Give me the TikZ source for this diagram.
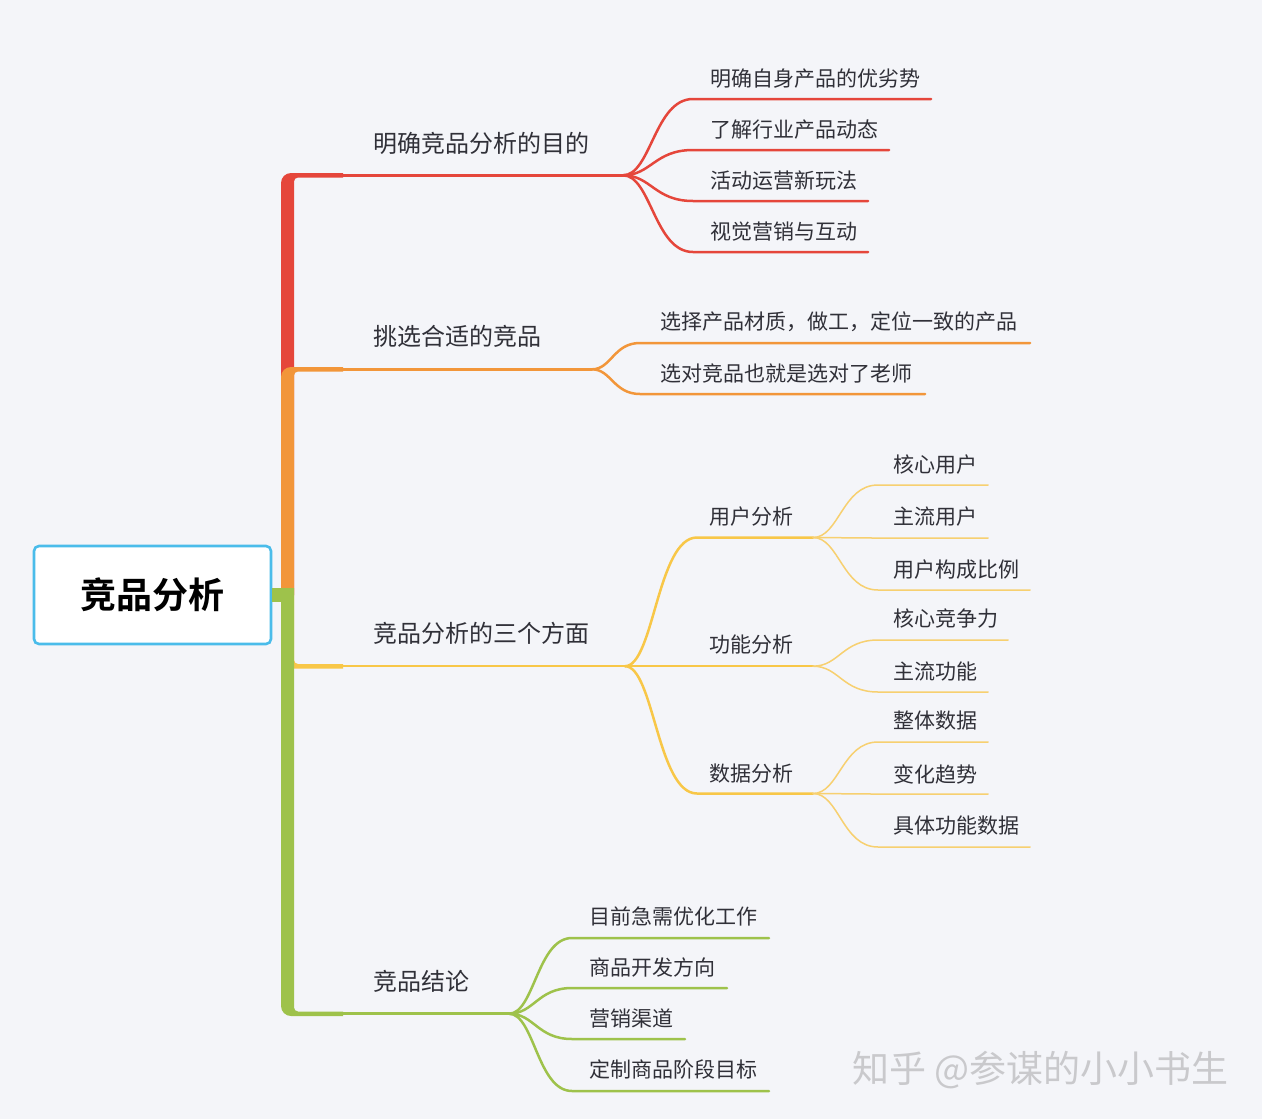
\documentclass[tikz,border=0pt]{standalone}
\usepackage{fontspec}
\setmainfont{Noto Sans CJK SC}[BoldFont={Noto Sans CJK SC Bold}]
\usetikzlibrary{calc}
\definecolor{bg}{HTML}{F4F5F9}
\definecolor{cred}{HTML}{E5463B}
\definecolor{corange}{HTML}{F2963A}
\definecolor{cyellow}{HTML}{F8C748}
\definecolor{cyellowl}{HTML}{F7D070}
\definecolor{cgreen}{HTML}{9EC24B}
\definecolor{cblue}{HTML}{4ABCEA}
\definecolor{ctext}{HTML}{303038}
\definecolor{cmark}{HTML}{C9C9CC}
\tikzset{
  maintext/.style={anchor=west, inner sep=0pt, text=ctext, font=\fontsize{24}{28}\selectfont},
  subtext/.style={anchor=west, inner sep=0pt, text=ctext, font=\fontsize{21}{25}\selectfont},
  rootbox/.style={draw=cblue, line width=2.6pt, fill=white, rounded corners=5pt,
    minimum width=237pt, minimum height=98pt, inner sep=0pt,
    font=\bfseries\fontsize{36}{40}\selectfont, text=black},
  wire/.style={line width=2.5pt, line cap=round},
  thinwire/.style={line width=1.5pt, line cap=round},
}
\newcommand\mmlink[4]{%
  \draw[#1] let \p1=(#2), \p2=(#3) in (\p1)
    .. controls ({\x1+0.4*(\x2-\x1)},\y1) and ({\x1+0.45*(\x2-\x1)},\y2) .. (\p2) -- (#4);}
\begin{document}
\begin{tikzpicture}[x=1pt,y=-1pt]
\fill[bg] (0,0) rectangle (1262,1119);
\useasboundingbox (0,0) rectangle (1262,1119);

% root
\node[rootbox] (root) at (152.5,595) {竞品分析};

% trunk pieces
\fill[cred] (281,595) -- (281,183) arc[start angle=180, end angle=270, radius=10]
  -- (343,173) -- (343,177.5) -- (298,177.5) arc[start angle=270, end angle=180, radius=4] -- (294,595) -- cycle;
\fill[corange] (281,595) -- (281,377) arc[start angle=180, end angle=270, radius=10]
  -- (343,367) -- (343,371.5) -- (298,371.5) arc[start angle=270, end angle=180, radius=4] -- (294,595) -- cycle;
\fill[cyellow] (281,595) -- (281,658.5) arc[start angle=180, end angle=90, radius=10]
  -- (343,668.5) -- (343,664) -- (298,664) arc[start angle=90, end angle=180, radius=4] -- (294,595) -- cycle;
\fill[cgreen] (281,588) -- (281,1006) arc[start angle=180, end angle=90, radius=10]
  -- (343,1016) -- (343,1011.5) -- (298,1011.5) arc[start angle=90, end angle=180, radius=4] -- (294,588) -- cycle;
\fill[cgreen] (root.east |- 0,588) rectangle (294,602);

% main branch coordinates
\coordinate (m1s) at (343,175.3);  \coordinate (m1f) at (623,175.3);
\coordinate (m2s) at (343,369.3);  \coordinate (m2f) at (592,369.3);
\coordinate (m3s) at (343,666.2);  \coordinate (m3f) at (625,666.2);
\coordinate (m4s) at (343,1013.7); \coordinate (m4f) at (509,1013.7);
\draw[wire, cred, line cap=butt] (m1s) -- (m1f);
\draw[wire, corange, line cap=butt] (m2s) -- (m2f);
\draw[wire, cyellow, line cap=butt] (m3s) -- (m3f);
\draw[wire, cgreen, line cap=butt] (m4s) -- (m4f);

\node[maintext] (m1) at (373,143) {明确竞品分析的目的};
\node[maintext] (m2) at (373,336) {挑选合适的竞品};
\node[maintext] (m3) at (373,633) {竞品分析的三个方面};
\node[maintext] (m4) at (373,981) {竞品结论};

% red children
\coordinate (r1s) at (693,99);  \coordinate (r1e) at (931,99);
\coordinate (r2s) at (693,150); \coordinate (r2e) at (889,150);
\coordinate (r3s) at (693,201); \coordinate (r3e) at (868,201);
\coordinate (r4s) at (693,252); \coordinate (r4e) at (868,252);
\mmlink{wire,cred}{m1f}{r1s}{r1e}
\mmlink{wire,cred}{m1f}{r2s}{r2e}
\mmlink{wire,cred}{m1f}{r3s}{r3e}
\mmlink{wire,cred}{m1f}{r4s}{r4e}
\node[subtext] (r1) at (710,79)  {明确自身产品的优劣势};
\node[subtext] (r2) at (710,130) {了解行业产品动态};
\node[subtext] (r3) at (710,181) {活动运营新玩法};
\node[subtext] (r4) at (710,232) {视觉营销与互动};

% orange children
\coordinate (o1s) at (640,343); \coordinate (o1e) at (1030,343);
\coordinate (o2s) at (640,394); \coordinate (o2e) at (925,394);
\mmlink{wire,corange}{m2f}{o1s}{o1e}
\mmlink{wire,corange}{m2f}{o2s}{o2e}
\node[subtext] (o1) at (660,322) {选择产品材质，做工，定位一致的产品};
\node[subtext] (o2) at (660,373) {选对竞品也就是选对了老师};

% yellow children
\coordinate (y1s) at (697,537.5); \coordinate (y1f) at (813,537.5);
\coordinate (y2s) at (697,666.2); \coordinate (y2f) at (813,666.2);
\coordinate (y3s) at (697,793.5); \coordinate (y3f) at (813,793.5);
\mmlink{wire,cyellow}{m3f}{y1s}{y1f}
\mmlink{wire,cyellow}{m3f}{y2s}{y2f}
\mmlink{wire,cyellow}{m3f}{y3s}{y3f}
\node[subtext] (y1) at (709,517) {用户分析};
\node[subtext] (y2) at (709,645) {功能分析};
\node[subtext] (y3) at (709,774) {数据分析};

% yellow grandchildren
\coordinate (u1s) at (878,485); \coordinate (u1e) at (988,485);
\coordinate (u2s) at (878,538); \coordinate (u2e) at (988,538);
\coordinate (u3s) at (878,590); \coordinate (u3e) at (1030,590);
\coordinate (f1s) at (878,640); \coordinate (f1e) at (1008,640);
\coordinate (f2s) at (878,692); \coordinate (f2e) at (988,692);
\coordinate (d1s) at (878,742); \coordinate (d1e) at (988,742);
\coordinate (d2s) at (878,794); \coordinate (d2e) at (988,794);
\coordinate (d3s) at (878,847); \coordinate (d3e) at (1030,847);
\mmlink{thinwire,cyellowl}{y1f}{u1s}{u1e}
\mmlink{thinwire,cyellowl}{y1f}{u2s}{u2e}
\mmlink{thinwire,cyellowl}{y1f}{u3s}{u3e}
\mmlink{thinwire,cyellowl}{y2f}{f1s}{f1e}
\mmlink{thinwire,cyellowl}{y2f}{f2s}{f2e}
\mmlink{thinwire,cyellowl}{y3f}{d1s}{d1e}
\mmlink{thinwire,cyellowl}{y3f}{d2s}{d2e}
\mmlink{thinwire,cyellowl}{y3f}{d3s}{d3e}
\node[subtext] (u1) at (893,465) {核心用户};
\node[subtext] (u2) at (893,517) {主流用户};
\node[subtext] (u3) at (893,570) {用户构成比例};
\node[subtext] (f1) at (893,619) {核心竞争力};
\node[subtext] (f2) at (893,672) {主流功能};
\node[subtext] (d1) at (893,721) {整体数据};
\node[subtext] (d2) at (893,774) {变化趋势};
\node[subtext] (d3) at (893,826) {具体功能数据};

% green children
\coordinate (g1s) at (572,938);  \coordinate (g1e) at (769,938);
\coordinate (g2s) at (572,988);  \coordinate (g2e) at (727,988);
\coordinate (g3s) at (572,1039); \coordinate (g3e) at (685,1039);
\coordinate (g4s) at (572,1091); \coordinate (g4e) at (769,1091);
\mmlink{wire,cgreen}{m4f}{g1s}{g1e}
\mmlink{wire,cgreen}{m4f}{g2s}{g2e}
\mmlink{wire,cgreen}{m4f}{g3s}{g3e}
\mmlink{wire,cgreen}{m4f}{g4s}{g4e}
\node[subtext] (g1) at (589,916)  {目前急需优化工作};
\node[subtext] (g2) at (589,967)  {商品开发方向};
\node[subtext] (g3) at (589,1018) {营销渠道};
\node[subtext] (g4) at (589,1069) {定制商品阶段目标};

% watermark
\node[anchor=west, inner sep=0pt, text=cmark, font=\fontsize{37}{41}\selectfont] (mark) at (852,1070) {知乎 @参谋的小小书生};
\end{tikzpicture}
\end{document}
